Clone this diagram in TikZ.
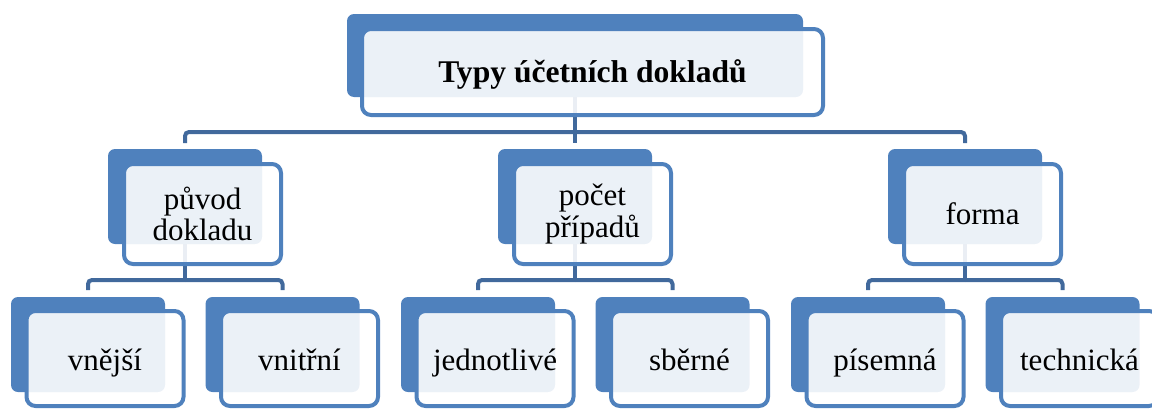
\documentclass[tikz,border=0pt]{standalone}
\usepackage{fontspec}
\setmainfont{Liberation Serif}
\definecolor{accent}{HTML}{4F81BD}
\definecolor{linkblue}{HTML}{41699C}
\pgfdeclarelayer{links}
\pgfsetlayers{links,main}
\begin{document}
\begin{tikzpicture}[x=1pt,y=-1pt,
  backbox/.style={fill=accent, rounded corners=7pt, inner sep=0pt, outer sep=0pt,
    minimum width=154pt, minimum height=95pt},
  frontbox/.style={draw=accent, line width=4pt, fill=white, fill opacity=0.89,
    text opacity=1, rounded corners=9pt, inner sep=2pt, outer sep=0pt, align=center,
    minimum width=157pt, minimum height=100pt,
    font=\fontsize{31}{31.5}\selectfont},
  leafback/.style={backbox},
  leaffront/.style={frontbox, minimum height=95pt, text height=30pt, text depth=7pt},
  conn/.style={draw=linkblue, line width=4pt, rounded corners=4pt}]
\useasboundingbox (0,0) rectangle (1152,410);
\clip (0,0) rectangle (1152,410);

% root
\node[backbox, minimum width=456pt, minimum height=83pt] (topB) at (575,55.5) {};
\node[frontbox, minimum width=461pt, minimum height=86pt, text height=27pt, text depth=7pt,
      font=\bfseries\fontsize{31.6}{32}\selectfont] (topF) at (592.5,72) {Typy účetních dokladů};

% second level
\node[backbox] (p1B) at (185,196.5) {};
\node[frontbox] (p1F) at (202.5,214) {původ\\dokladu};
\node[backbox] (p2B) at (575,196.5) {};
\node[frontbox] (p2F) at (592.5,214) {počet\\případů};
\node[backbox] (p3B) at (965,196.5) {};
\node[frontbox] (p3F) at (982.5,214) {forma};

% third level
\node[leafback] (c1B) at (88,344.5) {};
\node[leaffront] (c1F) at (105,358.5) {vnější};
\node[leafback] (c2B) at (282.5,344.5) {};
\node[leaffront] (c2F) at (299.5,358.5) {vnitřní};
\node[leafback] (c3B) at (478,344.5) {};
\node[leaffront] (c3F) at (495,358.5) {jednotlivé};
\node[leafback] (c4B) at (672.5,344.5) {};
\node[leaffront] (c4F) at (689.5,358.5) {sběrné};
\node[leafback] (c5B) at (868,344.5) {};
\node[leaffront] (c5F) at (885,358.5) {písemná};
\node[leafback] (c6B) at (1062.5,344.5) {};
\node[leaffront] (c6F) at (1079.5,358.5) {technická};

% connectors, kept beneath the boxes
\coordinate (bar0) at (0,132);
\coordinate (bar1) at (0,280);
\begin{pgfonlayer}{links}
  \draw[conn] (topB.south) -- (topB.south |- bar0);
  \foreach \c in {p1B,p2B,p3B}
    \draw[conn] (topB.south |- bar0) -| ([yshift=6pt]\c.north);
  \foreach \p/\a/\b in {p1B/c1B/c2B, p2B/c3B/c4B, p3B/c5B/c6B}{
    \draw[conn] (\p.south) -- (\p.south |- bar1);
    \draw[conn] (\p.south |- bar1) -| ([yshift=7pt]\a.north);
    \draw[conn] (\p.south |- bar1) -| ([yshift=7pt]\b.north);
  }
\end{pgfonlayer}
\end{tikzpicture}
\end{document}
